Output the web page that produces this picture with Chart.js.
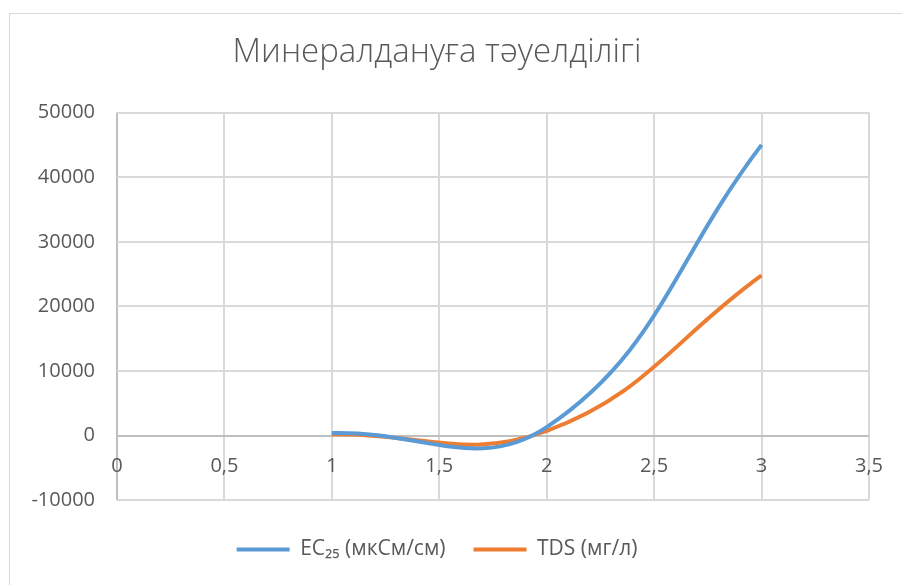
<!DOCTYPE html>
<html>
<head>
<meta charset="utf-8">
<script src="https://cdn.jsdelivr.net/npm/chart.js@4"></script>
<style>
  html, body { margin: 0; padding: 0; background: #fff; }
  #wrap { position: relative; width: 902px; height: 585px; overflow: hidden; }
  #frame { position: absolute; left: 9px; top: 13px; width: 900px; height: 600px; border: 1px solid #d9d9d9; box-sizing: border-box; pointer-events: none; }
</style>
</head>
<body>
<div id="wrap">
  <canvas id="mineralChart" width="902" height="585"></canvas>
  <div id="frame"></div>
</div>
<script>
/**
 * EC25 and TDS vs mineralisation, smoothed scatter lines
 */
const xValues = [1, 2, 3];
const ecValues = [400, 1300, 45000];
const tdsValues = [220, 720, 24800];

const xTicks = [0, 0.5, 1, 1.5, 2, 2.5, 3, 3.5];
const yTicks = [-10000, 0, 10000, 20000, 30000, 40000, 50000];

const toPoints = (ys) => xValues.map((x, i) => ({ x: x, y: ys[i] }));
const font = "'Open Sans', 'DejaVu Sans', sans-serif";
const gridColor = (c) => c.tick && c.tick.value === 0 ? "#bfbfbf" : "#d9d9d9";

const ctx = document.getElementById("mineralChart");

new Chart(ctx, {
    type: "scatter",
    data: {
        datasets: [
            {
                label: "EC₂₅ (мкСм/см)",
                data: toPoints(ecValues),
                borderColor: "#5b9bd5",
                backgroundColor: "#5b9bd5",
                borderWidth: 4,
                showLine: true,
                tension: 0.42,
                pointRadius: 0,
                pointHoverRadius: 0
            },
            {
                label: "TDS (мг/л)",
                data: toPoints(tdsValues),
                borderColor: "#ed7d31",
                backgroundColor: "#ed7d31",
                borderWidth: 4,
                showLine: true,
                tension: 0.42,
                pointRadius: 0,
                pointHoverRadius: 0
            }
        ]
    },
    options: {
        responsive: false,
        animation: false,
        layout: {
            padding: { left: 0, right: 28, top: 0, bottom: 15 }
        },
        plugins: {
            title: {
                display: true,
                text: "Минералдануға тәуелділігі",
                color: "#595959",
                font: { family: font, size: 33, weight: "300" },
                padding: { top: 33, bottom: 40 }
            },
            // empty spacer between plot and legend
            subtitle: {
                display: true,
                position: "bottom",
                text: " ",
                weight: 1000,
                font: { size: 9 },
                padding: { top: 0, bottom: 0 }
            },
            legend: {
                position: "bottom",
                weight: 2000,
                labels: {
                    color: "#595959",
                    font: { family: font, size: 21 },
                    boxWidth: 53,
                    boxHeight: 4,
                    padding: 28,
                    // flat line swatches, no outline
                    generateLabels: (chart) =>
                        Chart.defaults.plugins.legend.labels.generateLabels(chart)
                            .map(l => Object.assign(l, { lineWidth: 0 }))
                }
            },
            tooltip: { enabled: false }
        },
        scales: {
            x: {
                type: "linear",
                position: { y: 0 },
                min: 0,
                max: 3.5,
                afterBuildTicks: (s) => { s.ticks = xTicks.map(v => ({ value: v })); },
                ticks: {
                    color: "#595959",
                    font: { family: font, size: 20 },
                    padding: 19,
                    callback: (v) => String(v).replace(".", ",")
                },
                border: { display: false },
                grid: { color: gridColor, lineWidth: 2, drawTicks: false }
            },
            y: {
                min: -10000,
                max: 50000,
                afterBuildTicks: (s) => { s.ticks = yTicks.map(v => ({ value: v })); },
                afterFit: (s) => { s.width = 117; },
                ticks: {
                    color: "#595959",
                    font: { family: font, size: 20 },
                    padding: 22,
                    callback: (v) => String(v)
                },
                border: { display: false },
                grid: { color: gridColor, lineWidth: 2, drawTicks: false }
            }
        }
    }
});
</script>
</body>
</html>
